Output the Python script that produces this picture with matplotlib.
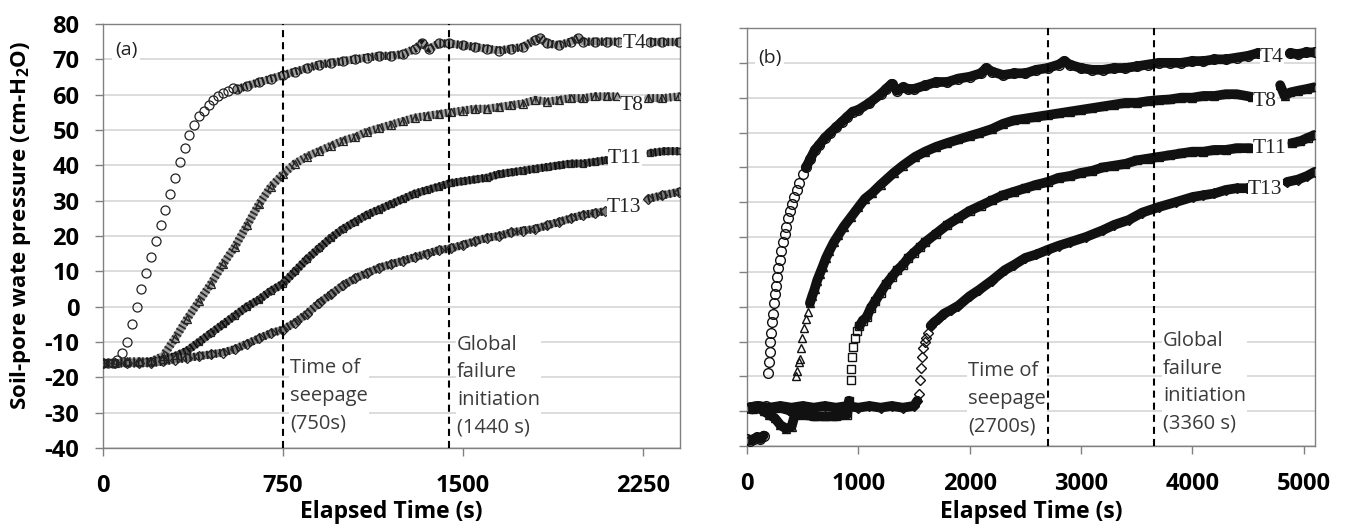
#pore pressure vs elapsed time, two tests (a) and (b)
import numpy as np
import matplotlib
matplotlib.use('Agg')
import matplotlib.pyplot as plt

plt.rcParams['font.family'] = ['Open Sans', 'DejaVu Sans']
plt.rcParams['mathtext.fontset'] = 'custom'
plt.rcParams['mathtext.rm'] = 'Open Sans'
plt.rcParams['mathtext.bf'] = 'Open Sans:bold'
plt.rcParams['axes.unicode_minus'] = False

# ---------------- panel (a) data ----------------
a_t4_t = [0, 20, 40, 60, 80, 100, 120, 140, 160, 180, 200, 220, 240, 260, 280, 300, 320, 340, 360, 380,
          400, 420, 440, 460, 480, 500, 520, 540, 560,
          600, 650, 700, 750, 800, 850, 900, 950, 1000, 1050, 1100, 1150, 1200, 1250, 1300,
          1330, 1360, 1400, 1440,
          1500, 1550, 1600, 1650, 1700, 1750, 1800,
          1820, 1850, 1900, 1950, 1980, 2000, 2050, 2100, 2150,
          2280, 2330, 2400]
a_t4_v = [-16, -16, -16, -15, -13, -10, -5, 0, 5, 9.5, 14, 18.5, 23, 27.5, 32, 36.5, 41, 45, 48.5, 51.5,
          54, 55.5, 57, 58.5, 59.5, 60.5, 61, 62, 61.5,
          62.5, 63.5, 64.5, 65.5, 66.5, 67.5, 68.5, 69, 69.5, 70, 70.5, 71, 71, 71.5, 73,
          74.5, 73, 74.5, 74.5,
          74, 73.5, 73, 72.5, 73, 73.5, 75.5,
          76, 74.5, 74, 75, 76, 75, 75, 75, 75,
          75, 75, 75]

a_t8_t = [0, 50, 100, 150, 200, 250, 300, 350, 400, 450, 500, 550, 600, 650, 700, 750, 800, 850, 900, 950,
          1000, 1050, 1100, 1150, 1200, 1250, 1300, 1350, 1400, 1450, 1500, 1550, 1600, 1650, 1700, 1750,
          1800, 1850, 1900, 1950, 2000, 2050, 2100, 2140, 2270, 2330, 2400]
a_t8_v = [-16, -16, -15.5, -15.5, -15.5, -14, -9, -3.5, 1.5, 6.5, 12, 17, 23, 29, 34, 37.5, 40.5, 42.5, 44, 45.5,
          47, 48, 49.5, 50.5, 51.5, 52.5, 53.5, 54, 54.5, 55, 55.5, 56, 56, 56.5, 57, 57.5,
          58.5, 58, 58.5, 59, 59, 59.5, 59.5, 59.5, 59, 59, 59.5]

a_t11_t = [0, 50, 100, 150, 200, 250, 300, 350, 400, 450, 500, 550, 600, 650, 700, 750, 800, 850, 900, 950,
           1000, 1050, 1100, 1150, 1200, 1250, 1300, 1350, 1400, 1450, 1500, 1550, 1600, 1650, 1700, 1750,
           1800, 1850, 1900, 1950, 2000, 2050, 2100, 2280, 2340, 2400]
a_t11_v = [-16, -16, -16, -16, -15.5, -15, -14, -12.5, -10, -7.5, -5, -2.5, 0, 2, 4.5, 6.5, 10, 13.5, 16.5, 19.5,
           22, 24, 26, 27.5, 29, 30.5, 32, 33, 34, 35, 35.5, 36, 36.5, 37.5, 38, 38.5,
           39, 39.5, 40, 40.5, 40.5, 41, 41.5, 43.5, 44, 44]

a_t13_t = [0, 50, 100, 150, 200, 250, 300, 350, 400, 450, 500, 550, 600, 650, 700, 750, 800, 850, 900, 950,
           1000, 1050, 1100, 1150, 1200, 1250, 1300, 1350, 1400, 1450, 1500, 1550, 1600, 1650, 1700, 1750,
           1800, 1850, 1900, 1950, 2000, 2050, 2090, 2270, 2330, 2400]
a_t13_v = [-16, -16, -16, -16, -16, -15.5, -15, -14.5, -14, -13.5, -13, -12, -10.5, -9, -7.5, -6.5, -4.5, -2, 1, 3.5,
           6, 8, 9.5, 11, 12, 13, 14, 15, 16, 16.5, 17.5, 18.5, 19.5, 20, 21, 21.5,
           22, 23, 24, 25, 26, 26.5, 27, 30.5, 31.5, 32.5]

# ---------------- panel (b) data ----------------
b_t4_t = [0, 30, 60, 90, 120, 150, 175, 185, 195, 203, 210, 218, 226, 234, 243, 252, 262, 272, 283, 295,
          308, 322, 337, 352, 368, 385, 403, 423, 445, 470, 500, 530, 570, 610, 650, 700, 750, 800, 850, 900,
          950, 1000, 1100, 1200, 1250, 1300, 1350, 1400, 1450, 1500, 1600, 1700, 1800, 1900, 2000, 2100,
          2150, 2200, 2300, 2400, 2500, 2600, 2700, 2800, 2850, 2900, 3000, 3100, 3200, 3300, 3400, 3500,
          3600, 3700, 3800, 3900, 4000, 4100, 4200, 4300, 4400, 4500, 4590, 4880, 4950, 5020, 5100]
b_t4_v = [-38, -38.5, -38, -37.5, -38, -37, -28.5, -19, -16, -13, -10, -7.5, -4.5, -2, 1, 3.5, 6, 8.5, 11, 13.5,
          16, 18.5, 21, 23, 25.5, 27.5, 29.5, 31.5, 33.5, 35.5, 38, 40, 42.5, 45, 46.5, 48.5, 50, 51.5, 53, 54.5,
          56, 56.5, 58.5, 61, 62.5, 64, 62, 63, 62.5, 62.5, 63.5, 64.5, 64.5, 65.5, 66, 67,
          68.5, 67.5, 66.5, 67, 67, 68, 68.5, 69.5, 70.5, 69.5, 68.5, 68, 68, 68.5, 68.5, 69,
          69.5, 70, 70, 70, 70.5, 70.5, 71, 71, 71.5, 72, 72.8, 72.8, 72.5, 73, 73]

b_t8_t = [0, 50, 100, 150, 200, 250, 300, 350, 400, 430, 440, 452, 463, 474, 482, 495, 512, 530, 548, 565,
          585, 607, 630, 655, 680, 710, 740, 780, 820, 870, 934, 1000, 1060, 1123, 1200, 1318, 1400, 1510,
          1600, 1700, 1800, 1900, 2000, 2085, 2200, 2300, 2400, 2500, 2600, 2700, 2800, 2900, 3000, 3100,
          3200, 3300, 3400, 3500, 3600, 3700, 3800, 3900, 4000, 4100, 4200, 4300, 4400, 4537,
          4790, 4830, 4880, 4950, 5030, 5100]
b_t8_v = [-29, -29.5, -29, -30, -31, -32, -34, -35, -34.5, -31, -20, -18.5, -16, -15, -12, -9, -6, -3.5, -1.5, 1,
          3, 5, 7.5, 9.5, 11.5, 14, 16, 18.5, 20.5, 23, 25.7, 28.5, 31, 32.6, 35, 38.4, 40.5, 43,
          44.5, 45.9, 47, 48, 49, 49.8, 51, 52.5, 53.5, 54, 54.5, 55, 55.5, 56, 56.5, 57,
          57.5, 58, 58.5, 58.5, 59, 59.3, 59.5, 60, 60, 60.5, 60.5, 61, 61, 60.2,
          63.6, 60.5, 61.5, 62, 62.5, 63]

b_t11_t = [0, 100, 200, 300, 400, 500, 600, 700, 800, 900, 916, 930, 936, 945, 955, 970, 990, 1010, 1040, 1075,
           1110, 1150, 1200, 1250, 1300, 1350, 1400, 1450, 1500, 1550, 1600, 1700, 1800, 1900, 2000, 2100,
           2200, 2300, 2400, 2500, 2600, 2700, 2800, 2900, 3000, 3100, 3200, 3300, 3400, 3500, 3600, 3700,
           3800, 3900, 4000, 4100, 4200, 4300, 4400, 4519, 4900, 4970, 5040, 5100]
b_t11_v = [-29, -28.5, -29.5, -29, -30, -31, -31.5, -31.5, -31.5, -31, -27, -21, -18, -14.5, -11.5, -9, -7, -5.5, -4, -3,
           -0.5, 1.5, 4, 6.5, 8.5, 10.5, 12, 14, 15.5, 17, 18.5, 21, 23.5, 25.5, 27.5, 29,
           30.5, 32, 33, 34, 35, 35.8, 37, 37.5, 38.4, 39, 40, 40.5, 41, 42, 42.5, 43,
           43.5, 44, 44.5, 44.5, 45, 45, 45.5, 45.5, 47, 47.5, 48.5, 49.3]

b_t13_t = [0, 100, 200, 300, 400, 500, 600, 700, 800, 900, 1000, 1100, 1200, 1300, 1400, 1500,
           1530, 1545, 1555, 1562, 1570, 1580, 1595, 1610, 1628, 1650, 1680, 1720, 1770, 1830, 1900, 2000,
           2085, 2200, 2316, 2400, 2500, 2600, 2700, 2800, 2900, 3045, 3200, 3300, 3430, 3550, 3700, 3850,
           4005, 4100, 4200, 4300, 4400, 4492, 4852, 4950, 5030, 5100]
b_t13_v = [-29, -28.5, -29, -28.5, -29, -28.5, -29, -28.5, -29, -28.5, -29, -28.5, -29, -28.5, -29, -28.5,
           -27, -25, -21, -17.5, -14.5, -12, -10, -9, -7.6, -5.5, -4.5, -3.5, -2, -1, 0.3, 3,
           4.8, 7.5, 10.5, 12, 14, 15, 16.3, 17.5, 18.5, 20, 22, 23.5, 24.9, 27, 28.6, 30,
           31.5, 32, 32.5, 33.5, 34, 34, 35.8, 36.5, 37.5, 38.7]

sensors = ['T4', 'T8', 'T11', 'T13']
a_series = [(a_t4_t, a_t4_v), (a_t8_t, a_t8_v), (a_t11_t, a_t11_v), (a_t13_t, a_t13_v)]
b_series = [(b_t4_t, b_t4_v), (b_t8_t, b_t8_v), (b_t11_t, b_t11_v), (b_t13_t, b_t13_v)]

# event times (s) and text
a_events = [750, 1440]
b_events = [2700, 3660]
a_notes = ['Time of\nseepage\n(750s)', 'Global\nfailure\ninitiation\n(1440 s)']
b_notes = ['Time of\nseepage\n(2700s)', 'Global\nfailure\ninitiation\n(3360 s)']

# styling
markers = ['o', '^', 's', 'D']
a_ms = [6.5, 5.5, 5.0, 5.0]
b_ms = [7.0, 5.5, 6.0, 5.5]
a_under = ['#9a9a9a', '#a0a0a0', '#505050', '#7a7a7a']
a_hatch = ['#1a1a1a', '#2a2a2a', '#0a0a0a', '#1a1a1a']
a_skip = [(40, 560), None, None, None]
b_skip = [(150, 530), (430, 560), (910, 1000), (1520, 1640)]


def runs(t, v, skip, maxgap):
    # split a series into the stretches that look like a continuous band
    out, cur = [], [(t[0], v[0])]
    for i in range(1, len(t)):
        broken = t[i] - t[i - 1] > maxgap
        if skip is not None and skip[0] <= t[i - 1] < skip[1]:
            broken = True
        if broken:
            if len(cur) > 1:
                out.append(cur)
            cur = []
        cur.append((t[i], v[i]))
    if len(cur) > 1:
        out.append(cur)
    return out


fig = plt.figure(figsize=(13.47, 5.24), dpi=100)
axa = fig.add_axes([103/1347, 1-448/524, 577/1347, 424/524])
axb = fig.add_axes([747/1347, 1-446/524, 568/1347, 418/524])

for ax in [axa, axb]:
    ax.set_ylim(-40, 80)
    ax.set_yticks(np.arange(-40, 81, 10))
    ax.grid(axis='y', color='#d9d9d9', lw=1.3)
    ax.set_axisbelow(True)
    for s in ax.spines.values():
        s.set_color('#808080')
        s.set_linewidth(1.0)
    ax.tick_params(direction='out', length=6, width=1, color='#808080', labelsize=17)
    ax.tick_params(axis='x', pad=13)
    ax.tick_params(axis='y', pad=11)

axa.set_xlim(0, 2404)
axa.set_xticks([0, 750, 1500, 2250])
axb.set_xlim(0, 5103)
axb.set_xticks([0, 1000, 2000, 3000, 4000, 5000])
axb.tick_params(axis='y', labelleft=False)

for ax in [axa, axb]:
    for lbl in ax.get_xticklabels() + ax.get_yticklabels():
        lbl.set_fontweight('bold')

# panel (a): hatched bands of overlapping hollow markers
for i, (t, v) in enumerate(a_series):
    for r in runs(t, v, a_skip[i], 100):
        rt, rv = zip(*r)
        axa.plot(rt, rv, color=a_under[i], lw=5.5, solid_capstyle='round', zorder=2)
        axa.plot(rt, rv, color=a_hatch[i], lw=6.0, ls=(0, (0.22, 0.30)), dash_capstyle='butt', zorder=2)
    axa.plot(t, v, ls='none', marker=markers[i], ms=a_ms[i], mfc='none', mec='#222222', mew=0.9, zorder=3)

# panel (b): dense black bands
for i, (t, v) in enumerate(b_series):
    for r in runs(t, v, b_skip[i], 240):
        rt, rv = zip(*r)
        axb.plot(rt, rv, color='#111111', lw=7.0, solid_capstyle='round', solid_joinstyle='round', zorder=2)
    axb.plot(t, v, ls='none', marker=markers[i], ms=b_ms[i], mfc='none', mec='#111111', mew=1.0, zorder=3)

# event lines
for ax, evs in [(axa, a_events), (axb, b_events)]:
    for e in evs:
        ax.axvline(e, color='black', lw=1.5, ls=(0, (3.4, 2.4)), zorder=4)

note_kw = dict(fontsize=14.5, linespacing=1.5, color='#3b3b3b', ha='left', va='center', zorder=5,
               bbox=dict(facecolor='white', edgecolor='none', pad=1.0))
axa.text(779, -25.2, a_notes[0], **note_kw)
axa.text(1475, -22.5, a_notes[1], **note_kw)
axb.text(1986, -26.4, b_notes[0], **note_kw)
axb.text(3738, -21.8, b_notes[1], **note_kw)

panel_kw = dict(fontsize=14, color='#222222', ha='left', va='center', zorder=5,
                bbox=dict(facecolor='white', edgecolor='none', pad=2.0))
axa.text(50, 72.6, '(a)', **panel_kw)
axb.text(99, 71.5, '(b)', **panel_kw)

tag_kw = dict(fontsize=15.5, family='Liberation Serif', color='#222222', ha='left', va='center', zorder=5,
              bbox=dict(facecolor='white', edgecolor='none', pad=0.3))
a_tag_pos = [(2163, 74.5), (2154, 56.8), (2104, 42), (2100, 28)]
b_tag_pos = [(4609, 71.5), (4546, 58.9), (4546, 45.3), (4501, 33.5)]
for name, (x, y) in zip(sensors, a_tag_pos):
    axa.text(x, y, name, **tag_kw)
for name, (x, y) in zip(sensors, b_tag_pos):
    axb.text(x, y, name, **tag_kw)

axa.set_ylabel('Soil-pore wate pressure (cm-H$_\\mathbf{2}$O)', fontsize=16, fontweight='bold')
axa.yaxis.set_label_coords(-0.121, 0.524)
axa.set_xlabel('Elapsed Time (s)', fontsize=16.5, fontweight='bold')
axa.xaxis.set_label_coords(0.5, -0.122)
axb.set_xlabel('Elapsed Time (s)', fontsize=16.5, fontweight='bold')
axb.xaxis.set_label_coords(0.5, -0.129)

fig.savefig('out.png', dpi=100)
